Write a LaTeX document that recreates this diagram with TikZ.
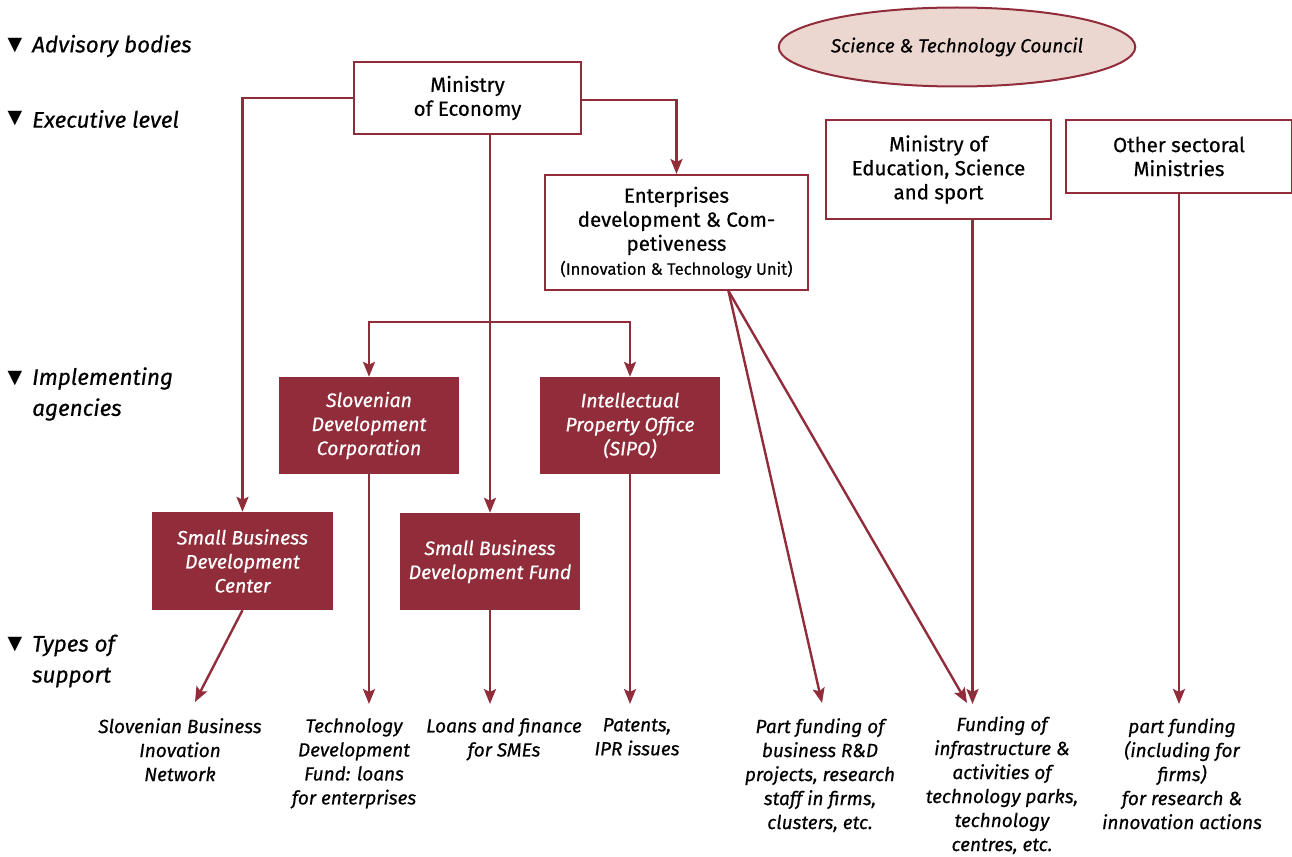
\documentclass[tikz,border=0pt]{standalone}
\usepackage{fontspec}
\setmainfont{Fira Sans}[FakeBold=0.5]
\newfontfamily\dejavu{DejaVu Sans}
\usetikzlibrary{arrows.meta,shapes.geometric}
\definecolor{dred}{RGB}{145,45,58}
\definecolor{lpink}{RGB}{235,214,208}
\begin{document}
\begin{tikzpicture}[x=1pt,y=-1pt,
  conn/.style={draw=dred, line width=2.4pt, -{Stealth[length=15pt,width=12pt,inset=3pt]}},
  wbox/.style={draw=dred, line width=2pt, fill=white, align=center, font=\fontsize{20.5}{24}\selectfont, inner sep=0pt},
  rbox/.style={fill=dred, text=white, align=center, font=\fontsize{19.5}{24}\selectfont\itshape, inner sep=0pt},
  lab/.style={align=center, font=\fontsize{19}{24}\selectfont\itshape, anchor=north, inner sep=0pt},
  leg/.style={anchor=west, font=\fontsize{22.5}{31}\selectfont\itshape, align=left, inner sep=0pt},
  tri/.style={font=\dejavu\fontsize{19}{19}\selectfont, inner sep=0pt}
]
\useasboundingbox (0,0) rectangle (1292,856);

% legend
\node[tri] (t1) at (15,46) {▼};
\node[leg] (l1) at (32,46) {Advisory bodies};
\node[tri] (t2) at (15,119) {▼};
\node[leg] (l2) at (32,119) {Executive level};
\node[tri] (t3) at (15,379) {▼};
\node[leg] (l3) at (32,394) {Implementing\\agencies};
\node[tri] (t4) at (15,645) {▼};
\node[leg] (l4) at (32,661) {Types of\\support};

% advisory
\node[ellipse, draw=dred, line width=2pt, fill=lpink, minimum width=356pt, minimum height=79pt, inner sep=0pt,
      font=\fontsize{19}{22}\selectfont\itshape] (stc) at (957,47) {Science \& Technology Council};

% executive
\node[wbox, minimum width=227pt, minimum height=72pt] (me) at (467.5,98) {Ministry\\of Economy};
\node[wbox, minimum width=263pt, minimum height=115pt] (ent) at (676.5,232.5)
  {Enterprises\\development \& Com-\\petiveness\\{\fontsize{16.5}{22}\selectfont (Innovation \& Technology Unit)}};
\node[wbox, minimum width=225pt, minimum height=99pt] (mes) at (938.5,169.5) {Ministry of\\Education, Science\\and sport};
\node[wbox, minimum width=226pt, minimum height=73pt] (osm) at (1179,156.5) {Other sectoral\\Ministries};

% agencies
\node[rbox, minimum width=180pt, minimum height=97pt] (sdc) at (369,425.5) {Slovenian\\Development\\Corporation};
\node[rbox, minimum width=180pt, minimum height=97pt] (sipo) at (630,425.5) {Intellectual\\Property Office\\(SIPO)};
\node[rbox, minimum width=181pt, minimum height=98pt] (sbdc) at (242.5,561) {Small Business\\Development\\Center};
\node[rbox, minimum width=180pt, minimum height=97pt] (sbdf) at (490,561.5) {Small Business\\Development Fund};

% types of support
\node[lab] (sbin) at (180,718) {Slovenian Business\\Inovation\\Network};
\node[lab] (tdf) at (354,718) {Technology\\Development\\Fund: loans\\for enterprises};
\node[lab] (lfs) at (504,718) {Loans and finance\\for SMEs};
\node[lab] (pat) at (637,718) {Patents,\\IPR issues};
\node[lab] (pf) at (820,718) {Part funding of\\business R\&D\\projects, research\\staff in firms,\\clusters, etc.};
\node[lab] (fi) at (1002,716) {Funding of\\infrastructure \&\\activities of\\technology parks,\\technology\\centres, etc.};
\node[lab] (pfi) at (1182,718) {part funding\\(including for\\firms)\\for research \&\\innovation actions};

% connectors
\coordinate (br) at (490,322);
\coordinate (a1) at (195,702);
\coordinate (a5) at (822,703);
\coordinate (a6) at (967,703);
\draw[conn] (me.west |- 0,98) -| (sbdc.north);
\draw[conn] (me.east |- 0,100) -| (ent.north);
\draw[conn] (me.south -| br) -- (sbdf.north -| br);
\draw[conn] (br) -| (sdc.north);
\draw[conn] (br) -| (sipo.north);
\draw[conn] (sbdc.south) -- (a1);
\draw[conn] (sdc.south) -- (sdc.south |- 0,704);
\draw[conn] (sbdf.south) -- (sbdf.south |- 0,704);
\draw[conn] (sipo.south) -- (sipo.south |- 0,704);
\draw[conn] ([xshift=52pt]ent.south) -- (a5);
\draw[conn] ([xshift=52pt]ent.south) -- (a6);
\draw[conn] ([xshift=34pt]mes.south) -- ([xshift=34pt]mes.south |- 0,704);
\draw[conn] (osm.south) -- (osm.south |- 0,704);
\end{tikzpicture}
\end{document}
